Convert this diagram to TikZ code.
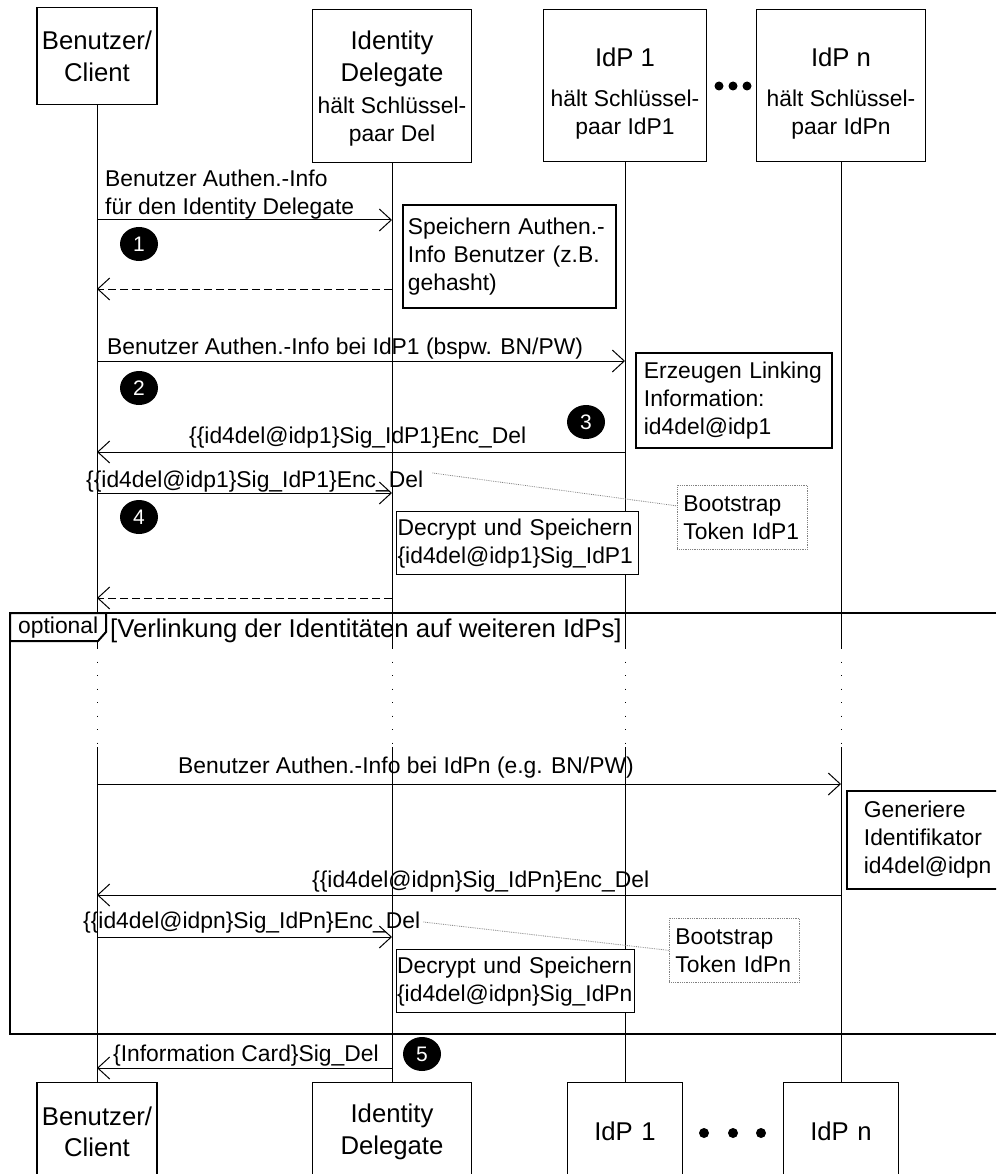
\documentclass[tikz,border=0pt]{standalone}
\usepackage{fontspec}
\setmainfont{Liberation Sans}
\usetikzlibrary{arrows.meta,shapes.geometric}

\newcommand{\msgfont}{\fontsize{22.85}{28}\selectfont}
\newcommand{\headfont}{\fontsize{25.7}{31.5}\selectfont}

\tikzset{
  lifebox/.style={draw, line width=1.2pt, fill=white, inner xsep=0pt, inner ysep=0pt, anchor=north, align=center, font=\headfont},
  headtext/.style={inner sep=0pt, align=center, font=\headfont},
  subtext/.style={inner sep=0pt, align=center, anchor=north, font=\msgfont},
  notebox/.style={draw, line width=1.8pt, fill=white, anchor=north west, align=left, inner ysep=0pt, font=\msgfont},
  tokenbox/.style={draw=gray, densely dotted, line width=0.8pt, anchor=north west, align=left, inner xsep=6pt, inner ysep=0pt, font=\msgfont},
  msglabel/.style={anchor=base west, inner sep=0pt, font=\msgfont},
  msg/.style={line width=1pt, -{Straight Barb[length=12pt,width=22pt]}},
  reply/.style={msg, dash pattern=on 8pt off 4pt},
  lifeline/.style={line width=1pt},
  tokenline/.style={gray, densely dotted, line width=0.8pt},
  badge/.style={ellipse, fill=black, text=white, minimum width=38pt, minimum height=34pt, inner sep=0pt, font=\fontsize{21}{21}\selectfont},
}

\begin{document}
\begin{tikzpicture}[x=1pt,y=-1pt]
  \useasboundingbox (0,0) rectangle (996,1174);
  \clip (0,0) rectangle (996,1174);

  % 生命线的横坐标
  \def\xC{97}  \def\xD{392}  \def\xA{625}  \def\xN{841}

  % 上方的参与者
  \node[lifebox, text width=120pt, minimum height=97pt] (cl) at (\xC,7) {Benutzer/\\Client};
  \node[lifebox, minimum width=159pt, minimum height=153pt] (del) at (\xD,9) {};
  \node[lifebox, minimum width=163pt, minimum height=152pt] (ia) at (\xA,9) {};
  \node[lifebox, minimum width=169pt, minimum height=152pt] (in) at (\xN,9) {};
  \node[headtext, anchor=north] (delt) at (\xD,31) {Identity\\Delegate};
  \node[subtext] (dels) at (\xD,97) {hält Schlüssel-\\paar Del};
  \node[headtext, anchor=base] (iat) at (\xA,67) {IdP 1};
  \node[subtext] (ias) at (\xA,90) {hält Schlüssel-\\paar IdP1};
  \node[headtext, anchor=base] (int) at (\xN,67) {IdP n};
  \node[subtext] (ins) at (\xN,90) {hält Schlüssel-\\paar IdPn};
  \foreach \x in {719,733,747} \fill (\x,86) circle (4.5pt);

  % 下方的参与者
  \node[lifebox, text width=120pt, minimum height=98pt] (clb) at (\xC,1082) {Benutzer/\\Client};
  \node[lifebox, text width=159pt, minimum height=98pt] (delb) at (\xD,1082) {Identity\\Delegate};
  \node[lifebox, text width=115pt, minimum height=98pt] (iab) at (\xA,1082) {IdP 1};
  \node[lifebox, text width=115pt, minimum height=98pt] (inb) at (\xN,1082) {IdP n};
  \foreach \x in {704,733,761} \fill (\x,1133) circle (5pt);

  % 生命线
  \coordinate (gapA) at (0,648);
  \coordinate (gapB) at (0,747);
  \foreach \p in {cl,del,ia,in}{
    \draw[lifeline] (\p.south) -- (\p.south |- gapA);
    \draw[lifeline, dash pattern=on 1pt off 12.5pt] (\p.south |- gapA) -- (\p.south |- gapB);
    \draw[lifeline] (\p.south |- gapB) -- (\p b.north);
  }

  % optional 框
  \draw[line width=1.3pt] (996,613) -- (10,613) -- (10,1034) -- (996,1034);
  \draw[line width=2pt, fill=white] (10,613) -- (106,613) -- (106,632) -- (98,641) -- (10,641) -- cycle;
  \node[msglabel] (opt) at (18,633) {optional};
  \node[msglabel, font=\headfont] (guard) at (110,637) {[Verlinkung der Identitäten auf weiteren IdPs]};

  % 消息的端点
  \foreach \r/\y in {a/220,b/289,c/361,d/452,e/493,f/598,g/784,h/895,i/937,j/1068}{
    \coordinate (C\r) at (\xC,\y);
    \coordinate (D\r) at (\xD,\y);
    \coordinate (A\r) at (\xA,\y);
    \coordinate (N\r) at (\xN,\y);
  }

  \draw[msg] (Ca) -- (Da);
  \draw[reply] (Db) -- (Cb);
  \draw[msg] (Cc) -- (Ac);
  \draw[msg] (Ad) -- (Cd);
  \draw[msg] (Ce) -- (De);
  \draw[reply] (Df) -- (Cf);
  \draw[msg] (Cg) -- (Ng);
  \draw[msg] (Nh) -- (Ch);
  \draw[msg] (Ci) -- (Di);
  \draw[msg] (Dj) -- (Cj);

  \node[msglabel, anchor=south west, align=left] (l1) at (105,219) {Benutzer Authen.-Info\\für den Identity Delegate};
  \node[msglabel] (l2) at (107,354) {Benutzer Authen.-Info bei IdP1 (bspw. BN/PW)};
  \node[msglabel] (l3) at (189,443) {\{\{id4del@idp1\}Sig\_IdP1\}Enc\_Del};
  \node[msglabel] (l4) at (86,487) {\{\{id4del@idp1\}Sig\_IdP1\}Enc\_Del};
  \node[msglabel] (ln1) at (178,773) {Benutzer Authen.-Info bei IdPn (e.g. BN/PW)};
  \node[msglabel] (ln2) at (312,887) {\{\{id4del@idpn\}Sig\_IdPn\}Enc\_Del};
  \node[msglabel] (ln3) at (83,928) {\{\{id4del@idpn\}Sig\_IdPn\}Enc\_Del};
  \node[msglabel] (l5) at (113,1061) {\{Information Card\}Sig\_Del};

  % 注释框
  \node[notebox, text width=203pt, inner xsep=5pt, minimum height=103pt] (store) at (402,204)
    {Speichern Authen.-\\Info Benutzer (z.B.\\gehasht)};
  \node[notebox, text width=180pt, inner xsep=8pt, minimum height=95pt] (link) at (635,352)
    {Erzeugen Linking\\Information:\\id4del@idp1};
  \node[notebox, line width=1.2pt, text width=240pt, inner xsep=1pt, minimum height=63pt] (dec1) at (396,511)
    {Decrypt und Speichern\\\{id4del@idp1\}Sig\_IdP1};
  \node[notebox, text width=140pt, inner xsep=17pt, minimum height=98pt] (gen) at (846,790)
    {Generiere\\Identifikator\\id4del@idpn};
  \node[notebox, line width=1.2pt, text width=237pt, inner xsep=0.5pt, minimum height=63pt] (decn) at (396,949)
    {Decrypt und Speichern\\\{id4del@idpn\}Sig\_IdPn};
  \node[tokenbox, text width=118pt, minimum height=64pt] (tk1) at (677,485) {Bootstrap\\Token IdP1};
  \node[tokenbox, text width=118pt, minimum height=64pt] (tkn) at (669,918) {Bootstrap\\Token IdPn};

  \draw[tokenline] ([shift={(9,-14)}]l4.base east) -- (tk1.170);
  \draw[tokenline] ([shift={(3,-6)}]ln3.base east) -- (tkn.west);

  % 编号
  \node[badge] (b1) at (139,244) {1};
  \node[badge] (b2) at (139,388) {2};
  \node[badge] (b3) at (586,422) {3};
  \node[badge] (b4) at (139,517) {4};
  \node[badge] (b5) at (422,1054) {5};
\end{tikzpicture}
\end{document}
